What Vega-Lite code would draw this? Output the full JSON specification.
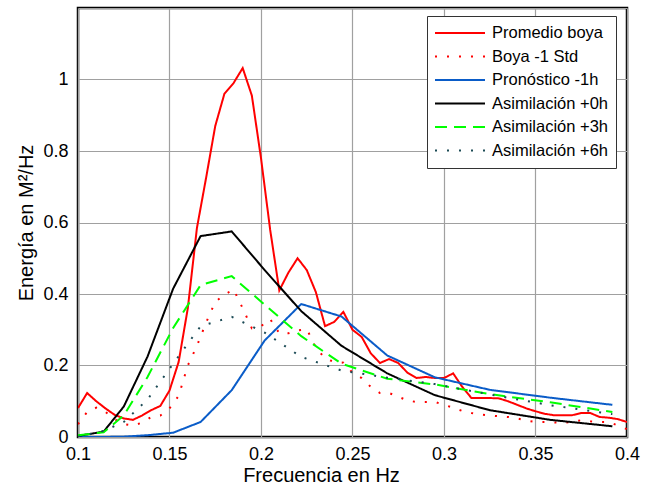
{
  "$schema": "https://vega.github.io/schema/vega-lite/v6.json",
  "width": 549,
  "height": 429,
  "autosize": {"type": "none"},
  "padding": {"left": 78, "top": 8, "right": 18, "bottom": 52},
  "background": "white",
  "config": {
    "font": "Liberation Sans",
    "view": {"stroke": "black", "strokeWidth": 2.5},
    "axis": {"gridColor": "#a0a0a0", "gridWidth": 1.2, "gridOpacity": 1, "domain": false, "ticks": false, "labelColor": "black", "titleColor": "black", "labelFont": "Liberation Sans", "titleFont": "Liberation Sans", "titleFontWeight": "normal", "labelFlush": false}
  },
  "data": {"values": [
    {"s": "Promedio boya", "f": 0.100, "e": 0.081},
    {"s": "Promedio boya", "f": 0.105, "e": 0.123},
    {"s": "Promedio boya", "f": 0.110, "e": 0.100},
    {"s": "Promedio boya", "f": 0.115, "e": 0.080},
    {"s": "Promedio boya", "f": 0.120, "e": 0.062},
    {"s": "Promedio boya", "f": 0.125, "e": 0.052},
    {"s": "Promedio boya", "f": 0.130, "e": 0.048},
    {"s": "Promedio boya", "f": 0.135, "e": 0.060},
    {"s": "Promedio boya", "f": 0.140, "e": 0.075},
    {"s": "Promedio boya", "f": 0.145, "e": 0.087},
    {"s": "Promedio boya", "f": 0.150, "e": 0.130},
    {"s": "Promedio boya", "f": 0.155, "e": 0.210},
    {"s": "Promedio boya", "f": 0.160, "e": 0.360},
    {"s": "Promedio boya", "f": 0.165, "e": 0.585},
    {"s": "Promedio boya", "f": 0.170, "e": 0.725},
    {"s": "Promedio boya", "f": 0.175, "e": 0.870},
    {"s": "Promedio boya", "f": 0.180, "e": 0.960},
    {"s": "Promedio boya", "f": 0.185, "e": 0.990},
    {"s": "Promedio boya", "f": 0.190, "e": 1.032},
    {"s": "Promedio boya", "f": 0.195, "e": 0.955},
    {"s": "Promedio boya", "f": 0.200, "e": 0.780},
    {"s": "Promedio boya", "f": 0.205, "e": 0.580},
    {"s": "Promedio boya", "f": 0.210, "e": 0.410},
    {"s": "Promedio boya", "f": 0.215, "e": 0.460},
    {"s": "Promedio boya", "f": 0.220, "e": 0.500},
    {"s": "Promedio boya", "f": 0.225, "e": 0.467},
    {"s": "Promedio boya", "f": 0.230, "e": 0.405},
    {"s": "Promedio boya", "f": 0.235, "e": 0.310},
    {"s": "Promedio boya", "f": 0.240, "e": 0.322},
    {"s": "Promedio boya", "f": 0.245, "e": 0.350},
    {"s": "Promedio boya", "f": 0.250, "e": 0.300},
    {"s": "Promedio boya", "f": 0.255, "e": 0.280},
    {"s": "Promedio boya", "f": 0.260, "e": 0.234},
    {"s": "Promedio boya", "f": 0.265, "e": 0.207},
    {"s": "Promedio boya", "f": 0.270, "e": 0.218},
    {"s": "Promedio boya", "f": 0.275, "e": 0.207},
    {"s": "Promedio boya", "f": 0.280, "e": 0.180},
    {"s": "Promedio boya", "f": 0.285, "e": 0.165},
    {"s": "Promedio boya", "f": 0.290, "e": 0.168},
    {"s": "Promedio boya", "f": 0.295, "e": 0.165},
    {"s": "Promedio boya", "f": 0.300, "e": 0.165},
    {"s": "Promedio boya", "f": 0.305, "e": 0.178},
    {"s": "Promedio boya", "f": 0.310, "e": 0.140},
    {"s": "Promedio boya", "f": 0.315, "e": 0.109},
    {"s": "Promedio boya", "f": 0.320, "e": 0.109},
    {"s": "Promedio boya", "f": 0.325, "e": 0.109},
    {"s": "Promedio boya", "f": 0.330, "e": 0.108},
    {"s": "Promedio boya", "f": 0.335, "e": 0.100},
    {"s": "Promedio boya", "f": 0.340, "e": 0.090},
    {"s": "Promedio boya", "f": 0.345, "e": 0.080},
    {"s": "Promedio boya", "f": 0.350, "e": 0.072},
    {"s": "Promedio boya", "f": 0.355, "e": 0.065},
    {"s": "Promedio boya", "f": 0.360, "e": 0.061},
    {"s": "Promedio boya", "f": 0.365, "e": 0.061},
    {"s": "Promedio boya", "f": 0.370, "e": 0.061},
    {"s": "Promedio boya", "f": 0.375, "e": 0.067},
    {"s": "Promedio boya", "f": 0.380, "e": 0.067},
    {"s": "Promedio boya", "f": 0.385, "e": 0.056},
    {"s": "Promedio boya", "f": 0.390, "e": 0.054},
    {"s": "Promedio boya", "f": 0.395, "e": 0.050},
    {"s": "Promedio boya", "f": 0.400, "e": 0.042},

    {"s": "Boya -1 Std", "f": 0.100, "e": 0.036},
    {"s": "Boya -1 Std", "f": 0.105, "e": 0.070},
    {"s": "Boya -1 Std", "f": 0.110, "e": 0.082},
    {"s": "Boya -1 Std", "f": 0.115, "e": 0.070},
    {"s": "Boya -1 Std", "f": 0.120, "e": 0.050},
    {"s": "Boya -1 Std", "f": 0.125, "e": 0.036},
    {"s": "Boya -1 Std", "f": 0.130, "e": 0.032},
    {"s": "Boya -1 Std", "f": 0.135, "e": 0.040},
    {"s": "Boya -1 Std", "f": 0.140, "e": 0.056},
    {"s": "Boya -1 Std", "f": 0.145, "e": 0.060},
    {"s": "Boya -1 Std", "f": 0.150, "e": 0.080},
    {"s": "Boya -1 Std", "f": 0.155, "e": 0.115},
    {"s": "Boya -1 Std", "f": 0.160, "e": 0.200},
    {"s": "Boya -1 Std", "f": 0.165, "e": 0.255},
    {"s": "Boya -1 Std", "f": 0.170, "e": 0.320},
    {"s": "Boya -1 Std", "f": 0.175, "e": 0.378},
    {"s": "Boya -1 Std", "f": 0.180, "e": 0.398},
    {"s": "Boya -1 Std", "f": 0.185, "e": 0.413},
    {"s": "Boya -1 Std", "f": 0.190, "e": 0.360},
    {"s": "Boya -1 Std", "f": 0.195, "e": 0.304},
    {"s": "Boya -1 Std", "f": 0.200, "e": 0.310},
    {"s": "Boya -1 Std", "f": 0.205, "e": 0.330},
    {"s": "Boya -1 Std", "f": 0.210, "e": 0.290},
    {"s": "Boya -1 Std", "f": 0.215, "e": 0.290},
    {"s": "Boya -1 Std", "f": 0.220, "e": 0.298},
    {"s": "Boya -1 Std", "f": 0.225, "e": 0.302},
    {"s": "Boya -1 Std", "f": 0.230, "e": 0.250},
    {"s": "Boya -1 Std", "f": 0.235, "e": 0.220},
    {"s": "Boya -1 Std", "f": 0.240, "e": 0.210},
    {"s": "Boya -1 Std", "f": 0.245, "e": 0.208},
    {"s": "Boya -1 Std", "f": 0.250, "e": 0.180},
    {"s": "Boya -1 Std", "f": 0.255, "e": 0.165},
    {"s": "Boya -1 Std", "f": 0.260, "e": 0.140},
    {"s": "Boya -1 Std", "f": 0.265, "e": 0.123},
    {"s": "Boya -1 Std", "f": 0.270, "e": 0.123},
    {"s": "Boya -1 Std", "f": 0.275, "e": 0.113},
    {"s": "Boya -1 Std", "f": 0.280, "e": 0.102},
    {"s": "Boya -1 Std", "f": 0.285, "e": 0.098},
    {"s": "Boya -1 Std", "f": 0.290, "e": 0.098},
    {"s": "Boya -1 Std", "f": 0.295, "e": 0.098},
    {"s": "Boya -1 Std", "f": 0.300, "e": 0.090},
    {"s": "Boya -1 Std", "f": 0.305, "e": 0.082},
    {"s": "Boya -1 Std", "f": 0.310, "e": 0.073},
    {"s": "Boya -1 Std", "f": 0.315, "e": 0.067},
    {"s": "Boya -1 Std", "f": 0.320, "e": 0.063},
    {"s": "Boya -1 Std", "f": 0.325, "e": 0.060},
    {"s": "Boya -1 Std", "f": 0.330, "e": 0.058},
    {"s": "Boya -1 Std", "f": 0.335, "e": 0.056},
    {"s": "Boya -1 Std", "f": 0.340, "e": 0.052},
    {"s": "Boya -1 Std", "f": 0.345, "e": 0.046},
    {"s": "Boya -1 Std", "f": 0.350, "e": 0.042},
    {"s": "Boya -1 Std", "f": 0.355, "e": 0.042},
    {"s": "Boya -1 Std", "f": 0.360, "e": 0.041},
    {"s": "Boya -1 Std", "f": 0.365, "e": 0.039},
    {"s": "Boya -1 Std", "f": 0.370, "e": 0.043},
    {"s": "Boya -1 Std", "f": 0.375, "e": 0.047},
    {"s": "Boya -1 Std", "f": 0.380, "e": 0.044},
    {"s": "Boya -1 Std", "f": 0.385, "e": 0.042},
    {"s": "Boya -1 Std", "f": 0.390, "e": 0.042},
    {"s": "Boya -1 Std", "f": 0.395, "e": 0.032},
    {"s": "Boya -1 Std", "f": 0.400, "e": 0.022},

    {"s": "Pronóstico -1h", "f": 0.100, "e": 0.000},
    {"s": "Pronóstico -1h", "f": 0.114, "e": 0.000},
    {"s": "Pronóstico -1h", "f": 0.125, "e": 0.001},
    {"s": "Pronóstico -1h", "f": 0.138, "e": 0.005},
    {"s": "Pronóstico -1h", "f": 0.152, "e": 0.012},
    {"s": "Pronóstico -1h", "f": 0.167, "e": 0.042},
    {"s": "Pronóstico -1h", "f": 0.184, "e": 0.131},
    {"s": "Pronóstico -1h", "f": 0.202, "e": 0.270},
    {"s": "Pronóstico -1h", "f": 0.222, "e": 0.372},
    {"s": "Pronóstico -1h", "f": 0.244, "e": 0.337},
    {"s": "Pronóstico -1h", "f": 0.269, "e": 0.228},
    {"s": "Pronóstico -1h", "f": 0.295, "e": 0.167},
    {"s": "Pronóstico -1h", "f": 0.325, "e": 0.132},
    {"s": "Pronóstico -1h", "f": 0.358, "e": 0.110},
    {"s": "Pronóstico -1h", "f": 0.392, "e": 0.090},

    {"s": "Asimilación +0h", "f": 0.100, "e": 0.003},
    {"s": "Asimilación +0h", "f": 0.114, "e": 0.015},
    {"s": "Asimilación +0h", "f": 0.125, "e": 0.085},
    {"s": "Asimilación +0h", "f": 0.138, "e": 0.225},
    {"s": "Asimilación +0h", "f": 0.152, "e": 0.415},
    {"s": "Asimilación +0h", "f": 0.167, "e": 0.562},
    {"s": "Asimilación +0h", "f": 0.184, "e": 0.575},
    {"s": "Asimilación +0h", "f": 0.202, "e": 0.467},
    {"s": "Asimilación +0h", "f": 0.222, "e": 0.352},
    {"s": "Asimilación +0h", "f": 0.244, "e": 0.255},
    {"s": "Asimilación +0h", "f": 0.269, "e": 0.178},
    {"s": "Asimilación +0h", "f": 0.295, "e": 0.117},
    {"s": "Asimilación +0h", "f": 0.325, "e": 0.075},
    {"s": "Asimilación +0h", "f": 0.358, "e": 0.048},
    {"s": "Asimilación +0h", "f": 0.392, "e": 0.030},

    {"s": "Asimilación +3h", "f": 0.100, "e": 0.005},
    {"s": "Asimilación +3h", "f": 0.114, "e": 0.013},
    {"s": "Asimilación +3h", "f": 0.125, "e": 0.060},
    {"s": "Asimilación +3h", "f": 0.138, "e": 0.168},
    {"s": "Asimilación +3h", "f": 0.152, "e": 0.305},
    {"s": "Asimilación +3h", "f": 0.167, "e": 0.425},
    {"s": "Asimilación +3h", "f": 0.184, "e": 0.450},
    {"s": "Asimilación +3h", "f": 0.202, "e": 0.370},
    {"s": "Asimilación +3h", "f": 0.222, "e": 0.282},
    {"s": "Asimilación +3h", "f": 0.244, "e": 0.205},
    {"s": "Asimilación +3h", "f": 0.269, "e": 0.163},
    {"s": "Asimilación +3h", "f": 0.295, "e": 0.147},
    {"s": "Asimilación +3h", "f": 0.325, "e": 0.120},
    {"s": "Asimilación +3h", "f": 0.358, "e": 0.097},
    {"s": "Asimilación +3h", "f": 0.392, "e": 0.070},

    {"s": "Asimilación +6h", "f": 0.100, "e": 0.000},
    {"s": "Asimilación +6h", "f": 0.114, "e": 0.017},
    {"s": "Asimilación +6h", "f": 0.125, "e": 0.042},
    {"s": "Asimilación +6h", "f": 0.138, "e": 0.105},
    {"s": "Asimilación +6h", "f": 0.152, "e": 0.205},
    {"s": "Asimilación +6h", "f": 0.167, "e": 0.310},
    {"s": "Asimilación +6h", "f": 0.184, "e": 0.336},
    {"s": "Asimilación +6h", "f": 0.202, "e": 0.292},
    {"s": "Asimilación +6h", "f": 0.222, "e": 0.224},
    {"s": "Asimilación +6h", "f": 0.244, "e": 0.186},
    {"s": "Asimilación +6h", "f": 0.269, "e": 0.166},
    {"s": "Asimilación +6h", "f": 0.295, "e": 0.148},
    {"s": "Asimilación +6h", "f": 0.325, "e": 0.119},
    {"s": "Asimilación +6h", "f": 0.358, "e": 0.089},
    {"s": "Asimilación +6h", "f": 0.392, "e": 0.064}
  ]},
  "mark": {"type": "line", "strokeWidth": 2, "clip": true, "strokeCap": "butt"},
  "encoding": {
    "x": {
      "field": "f", "type": "quantitative",
      "scale": {"domain": [0.1, 0.4], "nice": false, "zero": false},
      "axis": {"values": [0.1, 0.15, 0.2, 0.25, 0.3, 0.35, 0.4], "format": "~g", "labelFontSize": 18, "labelPadding": 8, "titleFontSize": 20, "title": "Frecuencia en Hz", "titlePadding": 2, "titleX": 243, "titleAnchor": "middle"}
    },
    "y": {
      "field": "e", "type": "quantitative",
      "scale": {"domain": [0, 1.2], "nice": false},
      "axis": {"values": [0, 0.2, 0.4, 0.6, 0.8, 1, 1.2], "labelExpr": "datum.value > 1.1 ? '' : datum.label", "format": "~g", "labelFontSize": 18, "labelPadding": 10, "titleFontSize": 20, "title": "Energía en M²/Hz", "titlePadding": 6}
    },
    "color": {
      "field": "s", "type": "nominal",
      "scale": {
        "domain": ["Promedio boya", "Boya -1 Std", "Pronóstico -1h", "Asimilación +0h", "Asimilación +3h", "Asimilación +6h"],
        "range": ["#ff0000", "#ff0000", "#0a5cc8", "#000000", "#00ff00", "#1b4a55"]
      },
      "legend": {
        "title": null, "orient": "none", "legendX": 349, "legendY": 8,
        "symbolType": "stroke", "symbolSize": 2500, "symbolStrokeWidth": 2,
        "labelFontSize": 16.5, "labelFont": "Liberation Sans", "labelColor": "black", "labelOffset": 6,
        "fillColor": "white", "strokeColor": "#333333", "padding": 7, "rowPadding": 3.5, "clipHeight": 20
      }
    },
    "strokeDash": {
      "field": "s", "type": "nominal",
      "scale": {
        "domain": ["Promedio boya", "Boya -1 Std", "Pronóstico -1h", "Asimilación +0h", "Asimilación +3h", "Asimilación +6h"],
        "range": [[1, 0], [2, 10], [1, 0], [1, 0], [12, 7], [2, 10]]
      },
      "legend": null
    },
    "order": {"field": "f", "type": "quantitative"}
  }
}
